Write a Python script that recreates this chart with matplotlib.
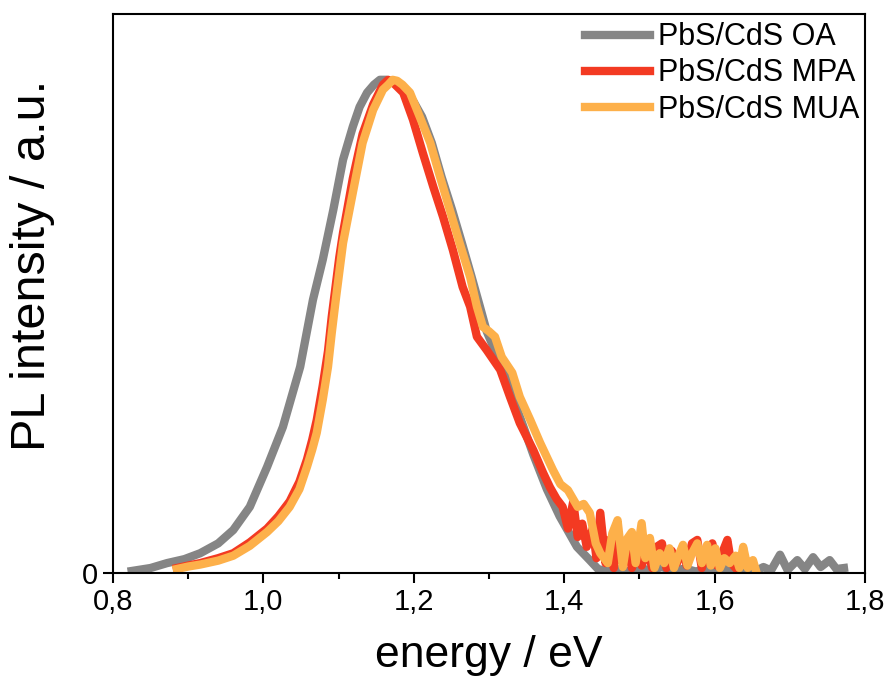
import matplotlib
matplotlib.use("Agg")
import matplotlib.pyplot as plt
from matplotlib.ticker import MultipleLocator, FuncFormatter

plt.rcParams['font.family'] = ['Liberation Sans', 'DejaVu Sans']

# PbS/CdS OA (grey)
e_oa = [0.825, 0.85, 0.872, 0.895, 0.916, 0.94, 0.96, 0.982, 1.005, 1.026,
        1.049, 1.066, 1.079, 1.093, 1.106, 1.119, 1.128, 1.138, 1.147, 1.155,
        1.164, 1.172, 1.18, 1.19, 1.2, 1.211, 1.224, 1.237, 1.251, 1.264,
        1.277, 1.288, 1.297, 1.311, 1.324, 1.332, 1.345, 1.359, 1.377, 1.394,
        1.417, 1.434, 1.445,
        1.455, 1.47, 1.485, 1.50, 1.515, 1.53, 1.545, 1.56, 1.575, 1.59,
        1.605, 1.62, 1.635, 1.645, 1.655, 1.665, 1.675, 1.687, 1.697, 1.71,
        1.72, 1.731, 1.741, 1.753, 1.762, 1.772]
i_oa = [0.004, 0.01, 0.02, 0.028, 0.04, 0.06, 0.087, 0.134, 0.215, 0.296,
        0.418, 0.554, 0.635, 0.736, 0.838, 0.905, 0.945, 0.974, 0.99, 1.0,
        1.0, 0.995, 0.99, 0.975, 0.955, 0.925, 0.872, 0.803, 0.736, 0.669,
        0.60, 0.54, 0.49, 0.44, 0.39, 0.355, 0.30, 0.24, 0.17, 0.115,
        0.053, 0.026, 0.008,
        0.004, 0.008, 0.003, 0.01, 0.005, 0.012, 0.004, 0.009, 0.003, 0.008,
        0.004, 0.01, 0.004, 0.012, 0.004, 0.012, 0.005, 0.037, 0.006, 0.026,
        0.008, 0.032, 0.012, 0.026, 0.008, 0.01]

# PbS/CdS MPA (red)
e_mpa = [0.885, 0.90, 0.916, 0.94, 0.96, 0.982, 1.005, 1.02, 1.035, 1.048,
         1.058, 1.065, 1.071, 1.079, 1.086, 1.091, 1.096, 1.101, 1.106, 1.119,
         1.132, 1.146, 1.159, 1.166, 1.172, 1.178, 1.186, 1.199, 1.212, 1.226,
         1.239, 1.252, 1.265, 1.275, 1.284, 1.297, 1.315, 1.328, 1.341, 1.359,
         1.372, 1.381, 1.39, 1.398, 1.405, 1.412, 1.418, 1.424, 1.430, 1.438,
         1.443, 1.448, 1.455, 1.46, 1.466, 1.472, 1.478, 1.485, 1.49, 1.497,
         1.503, 1.51, 1.517, 1.523, 1.53, 1.536, 1.543, 1.55, 1.557, 1.563,
         1.57, 1.577, 1.583, 1.59, 1.597, 1.603, 1.61, 1.617, 1.622, 1.628]
i_mpa = [0.01, 0.015, 0.02, 0.03, 0.04, 0.062, 0.09, 0.115, 0.145, 0.185,
         0.23, 0.27, 0.31, 0.38, 0.45, 0.52, 0.58, 0.64, 0.69, 0.80,
         0.89, 0.95, 0.99, 1.0, 0.995, 0.986, 0.974, 0.919, 0.852, 0.783,
         0.722, 0.655, 0.58, 0.54, 0.479, 0.452, 0.412, 0.357, 0.304, 0.249,
         0.203, 0.174, 0.15, 0.134, 0.09, 0.144, 0.073, 0.10, 0.053, 0.09,
         0.03, 0.122, 0.02, 0.067, 0.01, 0.08, 0.02, 0.05, 0.01, 0.04,
         0.015, 0.05, 0.01, 0.053, 0.06, 0.01, 0.045, 0.02, 0.05, 0.015,
         0.06, 0.067, 0.01, 0.045, 0.06, 0.015, 0.04, 0.067, 0.02, 0.01]

# PbS/CdS MUA (orange)
e_mua = [0.885, 0.90, 0.916, 0.94, 0.96, 0.982, 1.005, 1.02, 1.035, 1.048,
         1.058, 1.065, 1.071, 1.079, 1.086, 1.091, 1.096, 1.101, 1.106, 1.119,
         1.132, 1.146, 1.159, 1.166, 1.172, 1.178, 1.185, 1.195, 1.208, 1.222,
         1.235, 1.248, 1.261, 1.275, 1.284, 1.292, 1.300, 1.308, 1.317, 1.331,
         1.341, 1.355, 1.368, 1.385, 1.395, 1.405, 1.418, 1.426, 1.434, 1.442,
         1.448, 1.458, 1.464, 1.471, 1.478, 1.484, 1.49, 1.495, 1.503, 1.508,
         1.514, 1.52, 1.527, 1.533, 1.54, 1.546, 1.552, 1.558, 1.564, 1.57,
         1.577, 1.583, 1.59, 1.595, 1.601, 1.607, 1.613, 1.62, 1.628, 1.633,
         1.638, 1.644, 1.651, 1.655]
i_mua = [0.008, 0.013, 0.017, 0.025, 0.035, 0.055, 0.083, 0.105, 0.134, 0.17,
         0.215, 0.25, 0.284, 0.351, 0.418, 0.487, 0.55, 0.61, 0.669, 0.771,
         0.872, 0.939, 0.98, 0.99, 1.0, 0.998, 0.99, 0.974, 0.925, 0.872,
         0.803, 0.736, 0.669, 0.60, 0.54, 0.499, 0.49, 0.479, 0.438, 0.406,
         0.357, 0.31, 0.264, 0.209, 0.18, 0.168, 0.134, 0.14, 0.122, 0.06,
         0.04, 0.02, 0.08, 0.107, 0.012, 0.07, 0.083, 0.02, 0.101, 0.03,
         0.071, 0.01, 0.04, 0.02, 0.05, 0.01, 0.035, 0.057, 0.015, 0.04,
         0.06, 0.02, 0.057, 0.015, 0.05, 0.01, 0.03, 0.02, 0.035, 0.01,
         0.053, 0.01, 0.026, 0.005]

fig = plt.figure(figsize=(8.89, 6.87), dpi=100)
ax = fig.add_axes([0.127, 0.166, 0.846, 0.814])

ax.plot(e_oa, i_oa, color="#858585", lw=6, label="PbS/CdS OA", solid_joinstyle="round")
ax.plot(e_mpa, i_mpa, color="#F33A22", lw=6, label="PbS/CdS MPA", solid_joinstyle="round")
ax.plot(e_mua, i_mua, color="#FDB04A", lw=6, label="PbS/CdS MUA", solid_joinstyle="round")

ax.set_xlim(0.8, 1.8)
ax.set_ylim(0, 1.134)
ax.xaxis.set_major_locator(MultipleLocator(0.2))
ax.xaxis.set_minor_locator(MultipleLocator(0.1))
ax.xaxis.set_major_formatter(FuncFormatter(lambda v, p: f"{v:.1f}".replace(".", ",")))
ax.set_yticks([0])
ax.set_yticklabels(["0"])

ax.tick_params(axis="both", which="major", direction="out", length=7, width=1.5, labelsize=21)
ax.tick_params(axis="x", which="minor", direction="out", length=4, width=1.5)
for s in ax.spines.values():
    s.set_linewidth(1.5)

ax.set_xlabel("energy / eV", fontsize=32, labelpad=14)
ax.set_ylabel("PL intensity / a.u.", fontsize=35)
ax.yaxis.set_label_coords(-0.077, 0.55)

ax.legend(loc="upper right", frameon=False, fontsize=22, handlelength=2.15,
          handletextpad=0.25, labelspacing=0.2, borderaxespad=0.1,
          bbox_to_anchor=(1.013, 1.012))

fig.savefig("out.png", dpi=100)
